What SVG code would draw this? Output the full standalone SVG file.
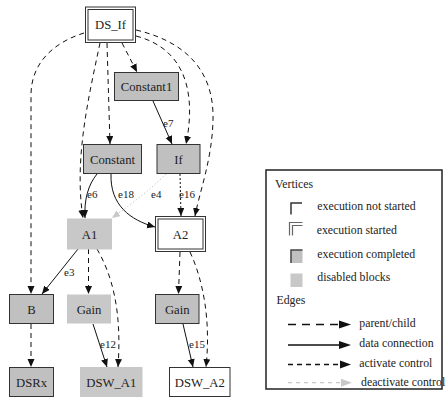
<svg xmlns="http://www.w3.org/2000/svg" width="446" height="401" viewBox="0 0 446 401">
<style>
.nl{font-size:12.7px;text-anchor:middle;fill:#222}
.el{font-size:11px;fill:#222}
.lg{font-size:11.8px;fill:#222}
.done{fill:#c0c0c0;stroke:#333;stroke-width:1}
.dis{fill:#c8c8c8;stroke:none}
.wht{fill:#fff;stroke:#333;stroke-width:1}
.e{fill:none;stroke:#111;stroke-width:1}
.pc{stroke-dasharray:5,4;marker-end:url(#ah)}
.dc{marker-end:url(#ah)}
.ac{stroke-dasharray:2,2;marker-end:url(#ah)}
.de{stroke:#c8c8c8;stroke-dasharray:1.5,2;marker-end:url(#ahg)}
</style>
<defs>
<marker id="ah" markerUnits="userSpaceOnUse" markerWidth="10" markerHeight="8" refX="8" refY="3.5" orient="auto">
<path d="M0,0 L8,3.5 L0,7 z" style="fill:#111;stroke:none"/>
</marker>
<marker id="ahg" markerUnits="userSpaceOnUse" markerWidth="10" markerHeight="8" refX="8" refY="3.5" orient="auto">
<path d="M0,0 L8,3.5 L0,7 z" style="fill:#c8c8c8;stroke:none"/>
</marker>
</defs>
<rect width="446" height="401" fill="#fff"/>
<g id="connectors">
<path class="e pc" d="M84,33 C55,42 31,62 31,95 L31,294"/>
<path class="e pc" d="M100,43 C88,100 74,160 83,218"/>
<path class="e pc" d="M107,43 L110,144"/>
<path class="e pc" d="M122,43 L137,72"/>
<path class="e pc" d="M136,36 C190,50 195,100 186,144"/>
<path class="e pc" d="M136,30 C200,45 214,85 213,120 C212,160 200,190 195,216"/>
<path class="e dc" d="M153,101 L172,144"/>
<path class="e dc" d="M97,174 C88,185 84,200 85,218"/>
<path class="e dc" d="M111,174 C110,205 130,220 155,227"/>
<path class="e de" d="M166,174 C150,190 130,205 112,218"/>
<path class="e ac" d="M180,174 L181,216"/>
<path class="e dc" d="M78,249 L42,294"/>
<path class="e pc" d="M88.5,249 L88.5,294"/>
<path class="e pc" d="M97,249 C112,275 122,310 118,367"/>
<path class="e dc" d="M93,324 L107,367"/>
<path class="e pc" d="M31,324 L31,367"/>
<path class="e pc" d="M180,252 L178.5,294"/>
<path class="e pc" d="M190,252 C203,280 211,320 206,367"/>
<path class="e dc" d="M183,324 L193,367"/>
<text class="el" x="163" y="127" style="font-family:'Liberation Serif',serif">e7</text>
<text class="el" x="87" y="198" style="font-family:'Liberation Serif',serif">e6</text>
<text class="el" x="118" y="198" style="font-family:'Liberation Serif',serif">e18</text>
<text class="el" x="151" y="198" style="font-family:'Liberation Serif',serif">e4</text>
<text class="el" x="179" y="198" style="font-family:'Liberation Serif',serif">e16</text>
<text class="el" x="64" y="276" style="font-family:'Liberation Serif',serif">e3</text>
<text class="el" x="100" y="348" style="font-family:'Liberation Serif',serif">e12</text>
<text class="el" x="189" y="348" style="font-family:'Liberation Serif',serif">e15</text>
</g>

<g id="DS_If">
<rect class="wht" x="85.5" y="7" width="50" height="35.5"/>
<rect class="wht" x="88" y="9.5" width="45" height="30.5"/>
<text class="nl" x="110.5" y="29" style="font-family:'Liberation Serif',serif">DS_If</text>
</g>
<g id="Constant1">
<rect class="done" x="114.5" y="72.5" width="64" height="28"/>
<text class="nl" x="146.5" y="91" style="font-family:'Liberation Serif',serif">Constant1</text>
</g>
<g id="Constant">
<rect class="done" x="83.5" y="144.5" width="58" height="29"/>
<text class="nl" x="112.5" y="163.5" style="font-family:'Liberation Serif',serif">Constant</text>
</g>
<g id="If">
<rect class="done" x="157" y="144.5" width="43" height="29"/>
<text class="nl" x="178.5" y="163.5" style="font-family:'Liberation Serif',serif">If</text>
</g>
<g id="A1">
<rect class="dis" x="67" y="218.5" width="45" height="31"/>
<text class="nl" x="89.5" y="238.5" style="font-family:'Liberation Serif',serif">A1</text>
</g>
<g id="A2">
<rect class="wht" x="155.5" y="216.5" width="50" height="35"/>
<rect class="wht" x="158" y="219" width="45" height="30"/>
<text class="nl" x="180.5" y="238.5" style="font-family:'Liberation Serif',serif">A2</text>
</g>
<g id="B">
<rect class="done" x="9.5" y="294.5" width="44" height="29"/>
<text class="nl" x="31.5" y="313.5" style="font-family:'Liberation Serif',serif">B</text>
</g>
<g id="Gain_A1">
<rect class="dis" x="67" y="294.5" width="44" height="29"/>
<text class="nl" x="89" y="313.5" style="font-family:'Liberation Serif',serif">Gain</text>
</g>
<g id="Gain_A2">
<rect class="done" x="155.5" y="294.5" width="43.5" height="29"/>
<text class="nl" x="177.3" y="313.5" style="font-family:'Liberation Serif',serif">Gain</text>
</g>
<g id="DSRx">
<rect class="done" x="9.5" y="367.5" width="44" height="29"/>
<text class="nl" x="31.5" y="386.5" style="font-family:'Liberation Serif',serif">DSRx</text>
</g>
<g id="DSW_A1">
<rect class="dis" x="80" y="367" width="62.5" height="30"/>
<text class="nl" x="111.3" y="386.5" style="font-family:'Liberation Serif',serif">DSW_A1</text>
</g>
<g id="DSW_A2">
<rect class="wht" x="169.5" y="367.5" width="60.5" height="29"/>
<text class="nl" x="199.8" y="386.5" style="font-family:'Liberation Serif',serif">DSW_A2</text>
</g>

<g id="legend">
<rect x="266" y="170" width="176" height="219" fill="#fff" stroke="#222" stroke-width="1.5"/>
<text class="lg" x="275" y="188" style="font-family:'Liberation Serif',serif">Vertices</text>
<path d="M291,214.5 V203 H302" fill="none" stroke="#333" stroke-width="1.5"/>
<text class="lg" x="317.3" y="210" style="font-family:'Liberation Serif',serif">execution not started</text>
<path d="M289.5,235.5 V222.5 H302.5 M292.5,235.5 V225.5 H302.5" fill="none" stroke="#666" stroke-width="1.2"/>
<text class="lg" x="316.7" y="234" style="font-family:'Liberation Serif',serif">execution started</text>
<rect x="291" y="250" width="11.5" height="13" fill="#c0c0c0"/>
<path d="M291,263 V250 H302.5" fill="none" stroke="#444" stroke-width="1.5"/>
<text class="lg" x="317.3" y="258.3" style="font-family:'Liberation Serif',serif">execution completed</text>
<rect x="290.5" y="273.5" width="12" height="13.5" fill="#c8c8c8"/>
<text class="lg" x="317.3" y="281" style="font-family:'Liberation Serif',serif">disabled blocks</text>
<text class="lg" x="276.5" y="303.5" style="font-family:'Liberation Serif',serif">Edges</text>
<line x1="288" y1="324.5" x2="339" y2="324.5" stroke="#111" stroke-width="1.3" stroke-dasharray="8,6"/>
<polygon points="339,320.5 351,324.5 339,328.5" fill="#111"/>
<text class="lg" x="359.3" y="326.5" style="font-family:'Liberation Serif',serif">parent/child</text>
<line x1="288" y1="345" x2="340" y2="345" stroke="#111" stroke-width="1.3"/>
<polygon points="339,341 351,345 339,349" fill="#111"/>
<text class="lg" x="359.3" y="347" style="font-family:'Liberation Serif',serif">data connection</text>
<line x1="288" y1="364.5" x2="340" y2="364.5" stroke="#111" stroke-width="1.3" stroke-dasharray="5,4"/>
<polygon points="340,360.5 351,364.5 340,368.5" fill="#111"/>
<text class="lg" x="359.3" y="367" style="font-family:'Liberation Serif',serif">activate control</text>
<line x1="288" y1="382.7" x2="341" y2="382.7" stroke="#c8c8c8" stroke-width="1.3" stroke-dasharray="4,4"/>
<polygon points="341,378.7 352,382.7 341,386.7" fill="#c8c8c8"/>
<text class="lg" x="361" y="386" style="font-family:'Liberation Serif',serif">deactivate control</text>
</g>
</svg>
